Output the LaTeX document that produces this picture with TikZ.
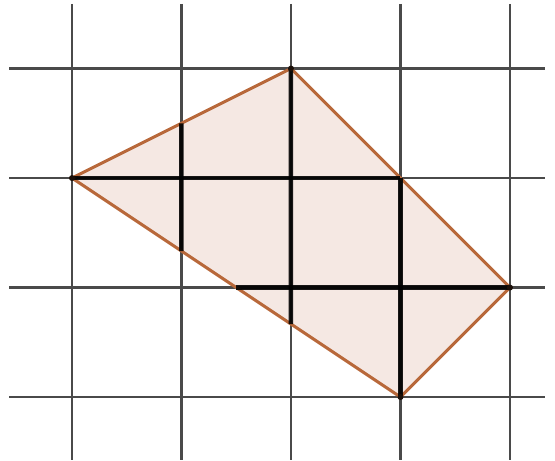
\documentclass[tikz,border=0pt]{standalone}
\usetikzlibrary{calc}
\definecolor{gridc}{HTML}{4A4A4A}
\definecolor{edgec}{HTML}{B8683A}
\definecolor{fillc}{HTML}{F5E8E3}
\tikzset{
  gridline/.style={draw=gridc, line width=2.2pt},
  polyedge/.style={draw=edgec, line width=3pt, line join=round},
  polyfill/.style={fill=fillc},
  cutline/.style={draw=black, line width=4.5pt, opacity=0.9},
  vdot/.style={circle, fill=black!85!edgec, inner sep=0pt, minimum size=6pt}
}
\begin{document}
\begin{tikzpicture}[x=109.5pt, y=109.5pt]
\useasboundingbox (-0.6575,-0.575) rectangle (4.411,3.626);
% vertices
\coordinate (A) at (0,2);
\coordinate (B) at (2,3);
\coordinate (C) at (4,1);
\coordinate (D) at (3,0);
% fill
\path[polyfill] (A) -- (B) -- (C) -- (D) -- cycle;
% grid
\foreach \i in {0,...,4} {
  \coordinate (gt\i) at (\i,3.59);
  \coordinate (gb\i) at (\i,-0.575);
  \draw[gridline] (gt\i) -- (gb\i);
}
\foreach \j in {0,...,3} {
  \coordinate (gl\j) at (-0.575,\j);
  \coordinate (gr\j) at (4.32,\j);
  \draw[gridline] (gl\j) -- (gr\j);
}
% border
\draw[polyedge] (A) -- (B) -- (C) -- (D) -- cycle;
% cut lines
\coordinate (P1) at ($(A)!0.5!(B)$);
\coordinate (Q1) at ($(A)!{1/3}!(D)$);
\coordinate (Q2) at ($(A)!{2/3}!(D)$);
\coordinate (Q3) at ($(A)!{1.5/3}!(D)$);
\coordinate (R2) at (3,2);
\draw[cutline] (P1) -- (Q1);
\draw[cutline] (B) -- (Q2);
\draw[cutline] (R2) -- (D);
\draw[cutline] (A) -- (R2);
\draw[cutline] (Q3) -- (C);
% vertex dots
\foreach \v in {A,B,C,D} \node[vdot] (dot\v) at (\v) {};
\end{tikzpicture}
\end{document}
